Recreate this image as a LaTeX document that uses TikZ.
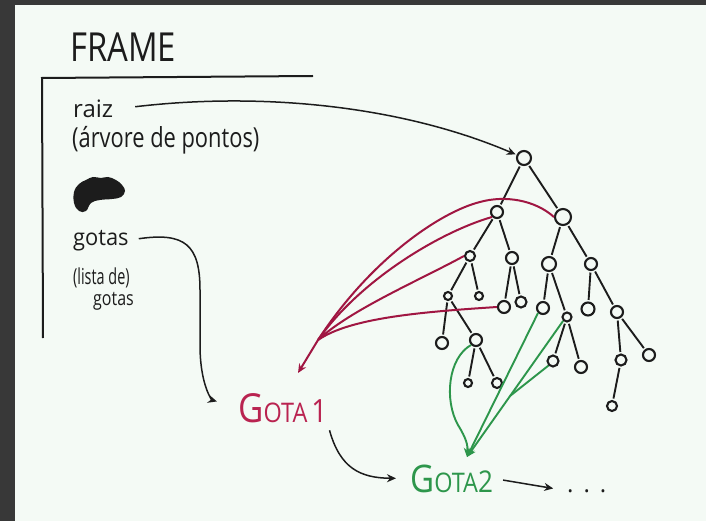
\documentclass[tikz,border=0pt]{standalone}
\usepackage{fontspec}
\setmainfont{Open Sans}
\usetikzlibrary{arrows.meta}

\definecolor{paper}{RGB}{244,250,245}
\definecolor{desk}{RGB}{56,56,56}
\definecolor{ink}{RGB}{28,28,28}
\definecolor{wine}{RGB}{160,22,66}
\definecolor{winetext}{RGB}{185,35,80}
\definecolor{leaf}{RGB}{45,150,75}

\newcommand\handsize[1]{\fontsize{#1}{#1}\selectfont}

\tikzset{
  treept/.style={circle, draw=ink, line width=2.1pt, inner sep=0pt, minimum size=#1},
  branch/.style={draw=ink, line width=1.9pt, shorten <=1.5pt, shorten >=1.5pt},
  hand/.style={inner sep=0pt, anchor=base west, text=ink},
  pen/.style={draw=ink, line width=1.5pt},
  tip/.style={-{Stealth[length=9pt,width=8pt]}},
  redpen/.style={draw=wine, line width=2pt},
  greenpen/.style={draw=leaf, line width=1.9pt},
}

\begin{document}
\begin{tikzpicture}[x=1pt, y=-1pt]
  % desk and sheet
  \fill[desk] (0,0) rectangle (706,521);
  \fill[paper] (15,5) rectangle (706,521);
  \useasboundingbox (0,0) rectangle (706,521);

  % the frame block
  \node[hand] (frame) at (70,62) {\handsize{40}\scalebox{0.82}[1]{FRAME}};
  \draw[ink, line width=2pt] (313,76) -- (42,78) -- (43,338);

  \node[hand] (raiz) at (73,118) {\handsize{24}raiz};
  \node[hand] (arvore) at (72,148) {\handsize{23}\scalebox{0.95}[1.2]{(árvore de pontos)}};
  \fill[ink] plot[smooth cycle, tension=0.7] coordinates
    {(74,192) (79,184) (86,180) (93,177) (101,178) (108,177) (116,180) (122,185) (125,191)
     (121,197) (112,199) (100,200) (91,203) (86,211) (79,211) (74,203)};
  \node[hand] (gotasA) at (73,245) {\handsize{23}\scalebox{0.95}[1]{gotas}};
  \node[hand] (lista) at (73,284) {\handsize{20}\scalebox{0.72}[1.1]{(lista de)}};
  \node[hand] (gotasB) at (93,305) {\handsize{20}\scalebox{0.8}[1]{gotas}};

  % the point tree
  \node[treept=14pt] (root) at (524,158) {};
  \node[treept=12pt] (na) at (497,212) {};
  \node[treept=16pt] (nb) at (563,217) {};
  \node[treept=10pt] (na1) at (470,256) {};
  \node[treept=12pt] (na2) at (512,258) {};
  \node[treept=14pt] (nb1) at (549,264) {};
  \node[treept=12pt] (nb2) at (591,264) {};
  \node[treept=8pt] (na11) at (448,296) {};
  \node[treept=8pt] (na12) at (479,296) {};
  \node[treept=12pt] (na21) at (504,307) {};
  \node[treept=11pt] (na22) at (521,302) {};
  \node[treept=12pt] (nb11) at (543,308) {};
  \node[treept=9pt] (nb12) at (567,317) {};
  \node[treept=13pt] (nb21) at (588,309) {};
  \node[treept=12pt] (nb22) at (617,312) {};
  \node[treept=12pt] (na111) at (442,343) {};
  \node[treept=12pt] (na112) at (476,340) {};
  \node[treept=8pt] (na1121) at (468,383) {};
  \node[treept=10pt] (na1122) at (497,383) {};
  \node[treept=11pt] (nb121) at (553,361) {};
  \node[treept=12pt] (nb122) at (581,367) {};
  \node[treept=11pt] (nb221) at (621,360) {};
  \node[treept=12pt] (nb222) at (649,355) {};
  \node[treept=10pt] (nb2211) at (612,406) {};

  \foreach \p/\c in {root/na, root/nb, na/na1, na/na2, nb/nb1, nb/nb2,
                     na1/na11, na1/na12, na2/na21, na2/na22, nb1/nb11, nb1/nb12,
                     nb2/nb21, nb2/nb22, na11/na111, na11/na112, na112/na1121,
                     na112/na1122, nb12/nb121, nb12/nb122, nb22/nb221, nb22/nb222,
                     nb221/nb2211}
    \draw[branch] (\p) -- (\c);

  % the drop list
  \node[hand, text=winetext] (gota1) at (238,422)
    {\scalebox{0.87}[1]{\handsize{40}G\handsize{27}OTA\,\handsize{32}1}};
  \node[hand, text=leaf] (gota2) at (410,492)
    {\scalebox{0.87}[1]{\handsize{38}G\handsize{27}OTA\handsize{30}2}};
  \node[hand] (more) at (567,492) {\handsize{24}.\hspace{10pt}.\hspace{10pt}.};

  % black connectors
  \draw[pen, tip, shorten <=22pt, shorten >=1pt] (raiz.east)
    .. controls (260,92) and (400,105) .. (root);
  \draw[pen, tip, shorten <=10pt, shorten >=22pt] (gotasA.east)
    .. controls (185,232) and (200,245) .. (200,290) -- (200,345)
    .. controls (200,385) and (212,400) .. (gota1.west);
  \draw[pen, tip, shorten <=8pt, shorten >=14pt] (gota1.south east)
    .. controls (340,468) and (360,478) .. (gota2.west);
  \draw[pen, tip, shorten <=10pt, shorten >=14pt] (gota2.east) -- (more.west);

  % points that belong to the first drop
  \coordinate (rjoin) at (318,340);
  \coordinate (rtip) at (298,373);
  \draw[redpen] (nb.west) .. controls (535,200) and (505,195) .. (480,202)
    .. controls (440,212) and (370,260) .. (rjoin);
  \draw[redpen] (na.south west) .. controls (440,232) and (360,280) .. (rjoin);
  \draw[redpen] (na1.west) .. controls (420,280) and (350,310) .. (rjoin);
  \draw[redpen] (na21.west) .. controls (420,312) and (350,318) .. (rjoin);
  \draw[redpen, tip] (rjoin) -- (rtip);

  % points that belong to the second drop
  \coordinate (gjoin) at (510,396);
  \coordinate (gtip) at (467,457);
  \draw[greenpen, tip] (na112.south west) .. controls (448,358) and (444,400) .. (458,425)
    .. controls (466,438) and (468,445) .. (gtip);
  \draw[greenpen, tip] (nb11.south west) -- (gtip);
  \draw[greenpen, tip] (nb12.south west) -- (gtip);
  \draw[greenpen] (nb121.south west) -- (gjoin);
\end{tikzpicture}
\end{document}
